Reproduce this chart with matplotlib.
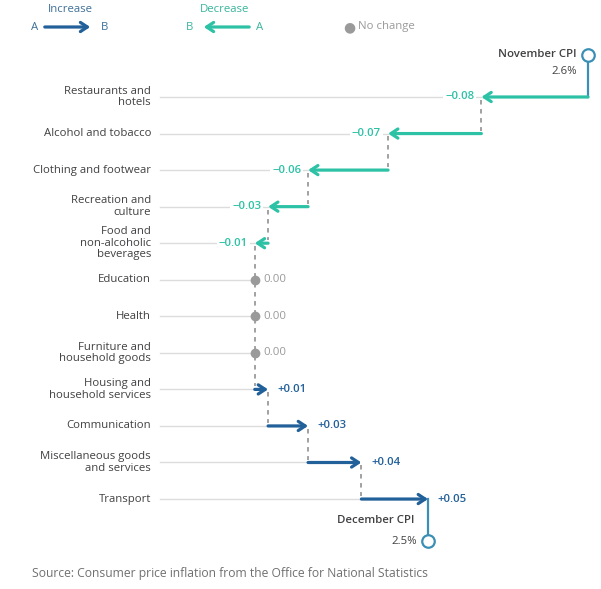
import matplotlib.pyplot as plt
from matplotlib.patches import FancyArrowPatch
import numpy as np

plt.rcParams['font.family'] = ['Open Sans', 'DejaVu Sans']

# data
categories = ["Restaurants and\nhotels", "Alcohol and tobacco", "Clothing and footwear",
              "Recreation and\nculture", "Food and\nnon-alcoholic\nbeverages", "Education",
              "Health", "Furniture and\nhousehold goods", "Housing and\nhousehold services",
              "Communication", "Miscellaneous goods\nand services", "Transport"]
changes = [-0.08, -0.07, -0.06, -0.03, -0.01, 0.00, 0.00, 0.00, 0.01, 0.03, 0.04, 0.05]
nov_cpi = 2.6
dec_cpi = 2.5
nov_label = "November CPI"
dec_label = "December CPI"

inc_col = '#22609a'
dec_col = '#2dc2a6'
cpi_col = '#3b8fb5'
txt_col = '#414042'
grid_col = '#dcdcdc'
zero_col = '#9a9a9a'
fs = 8.2

W, H = 601, 589
fig = plt.figure(figsize=(W / 100, H / 100), dpi=100)
ax = fig.add_axes([0, 0, 1, 1])
ppu = 1333.0  # pixels per CPI point
ax.set_xlim(nov_cpi - 588 / ppu, nov_cpi + (W - 588) / ppu)
row_h = 36.55
ax.set_ylim((H - 97) / row_h, -97 / row_h)
ax.axis('off')

starts = nov_cpi + np.concatenate([[0], np.cumsum(changes)[:-1]])
ends = nov_cpi + np.cumsum(changes)
x_left = nov_cpi - (588 - 160) / ppu
x_lab = nov_cpi - (588 - 151) / ppu
arrow_style = '->,head_length=0.5,head_width=0.33'

for i, (cat, ch, s, e) in enumerate(zip(categories, changes, starts, ends)):
    ax.text(x_lab, i, cat, ha='right', va='center', fontsize=fs, color=txt_col,
            linespacing=1.05)
    ax.plot([x_left, min(s, e)], [i, i], color=grid_col, lw=1, zorder=1)
    if ch < 0:
        ax.annotate('', xy=(e, i), xytext=(s, i),
                    arrowprops=dict(arrowstyle=arrow_style, color=dec_col, lw=2.3,
                                    shrinkA=0, shrinkB=0),
                    zorder=3)
        ax.annotate('\u2212%.2f' % abs(ch), xy=(e, i), xytext=(-5, 0),
                    textcoords='offset points', ha='right', va='center', fontsize=fs,
                    color=dec_col, fontweight='semibold',
                    bbox=dict(fc='white', ec='none', pad=1.5))
    elif ch > 0:
        ax.annotate('', xy=(e, i), xytext=(s, i),
                    arrowprops=dict(arrowstyle=arrow_style, color=inc_col, lw=2.3,
                                    shrinkA=0, shrinkB=0),
                    zorder=3)
        ax.annotate('+%.2f' % ch, xy=(e, i), xytext=(7, 0),
                    textcoords='offset points', ha='left', va='center', fontsize=fs,
                    color=inc_col, fontweight='semibold')
    else:
        ax.plot(e, i, 'o', color=zero_col, ms=6, zorder=3)
        ax.annotate('%.2f' % ch, xy=(e, i), xytext=(6, 0),
                    textcoords='offset points', ha='left', va='center', fontsize=fs,
                    color=zero_col)
    # dashed connector to next row
    if i < len(categories) - 1:
        ax.plot([e, e], [i + 0.08, i + 1 - 0.08], color=zero_col, lw=1.3,
                ls=(0, (2.5, 2.5)), zorder=2)

# CPI start and end markers
top_y = -1.15
bot_y = len(categories) - 1 + 1.15
ax.plot([nov_cpi, nov_cpi], [top_y, 0], color=cpi_col, lw=1.6, zorder=2)
ax.plot(nov_cpi, top_y, 'o', mfc='white', mec=cpi_col, mew=1.6, ms=9, zorder=4)
ax.annotate(nov_label, xy=(nov_cpi, top_y), xytext=(-8, 0), textcoords='offset points',
            ha='right', va='center', fontsize=fs, color=txt_col, fontweight='semibold')
ax.annotate('%.1f%%' % nov_cpi, xy=(nov_cpi, top_y), xytext=(-8, -12),
            textcoords='offset points', ha='right', va='center', fontsize=fs, color=txt_col)
ax.plot([ends[-1], ends[-1]], [len(categories) - 1, bot_y], color=cpi_col, lw=1.6, zorder=2)
ax.plot(ends[-1], bot_y, 'o', mfc='white', mec=cpi_col, mew=1.6, ms=9, zorder=4)
ax.annotate(dec_label, xy=(ends[-1], bot_y), xytext=(-10, 15), textcoords='offset points',
            ha='right', va='center', fontsize=fs, color=txt_col, fontweight='semibold')
ax.annotate('%.1f%%' % dec_cpi, xy=(ends[-1], bot_y), xytext=(-8, 0),
            textcoords='offset points', ha='right', va='center', fontsize=fs, color=txt_col)

# legend
fig.text(70 / W, 1 - 10 / H, 'Increase', ha='center', va='center', fontsize=fs, color='#3d6f96')
fig.text(35 / W, 1 - 27 / H, 'A', ha='center', va='center', fontsize=fs, color='#3d6f96')
fig.text(105 / W, 1 - 27 / H, 'B', ha='center', va='center', fontsize=fs, color='#3d6f96')
fig.patches.append(FancyArrowPatch(
    (42 / W, 1 - 27 / H), (93 / W, 1 - 27 / H), transform=fig.transFigure,
    arrowstyle=arrow_style, mutation_scale=10, color=inc_col, lw=2.3))
fig.text(225 / W, 1 - 10 / H, 'Decrease', ha='center', va='center', fontsize=fs, color='#38b59e')
fig.text(190 / W, 1 - 27 / H, 'B', ha='center', va='center', fontsize=fs, color='#38b59e')
fig.text(260 / W, 1 - 27 / H, 'A', ha='center', va='center', fontsize=fs, color='#38b59e')
fig.patches.append(FancyArrowPatch(
    (252 / W, 1 - 27 / H), (201 / W, 1 - 27 / H), transform=fig.transFigure,
    arrowstyle=arrow_style, mutation_scale=10, color=dec_col, lw=2.3))
fig.text(349 / W, 1 - 27 / H, '\u25cf', ha='center', va='center', fontsize=10,
         color=zero_col, family='DejaVu Sans')
fig.text(358 / W, 1 - 27 / H, 'No change', ha='left', va='center', fontsize=fs, color=zero_col)

fig.text(32 / W, 1 - 573 / H, 'Source: Consumer price inflation from the Office for National Statistics',
         ha='left', va='center', fontsize=8.7, color='#707070')

fig.savefig('out.png', dpi=100, facecolor='white')
